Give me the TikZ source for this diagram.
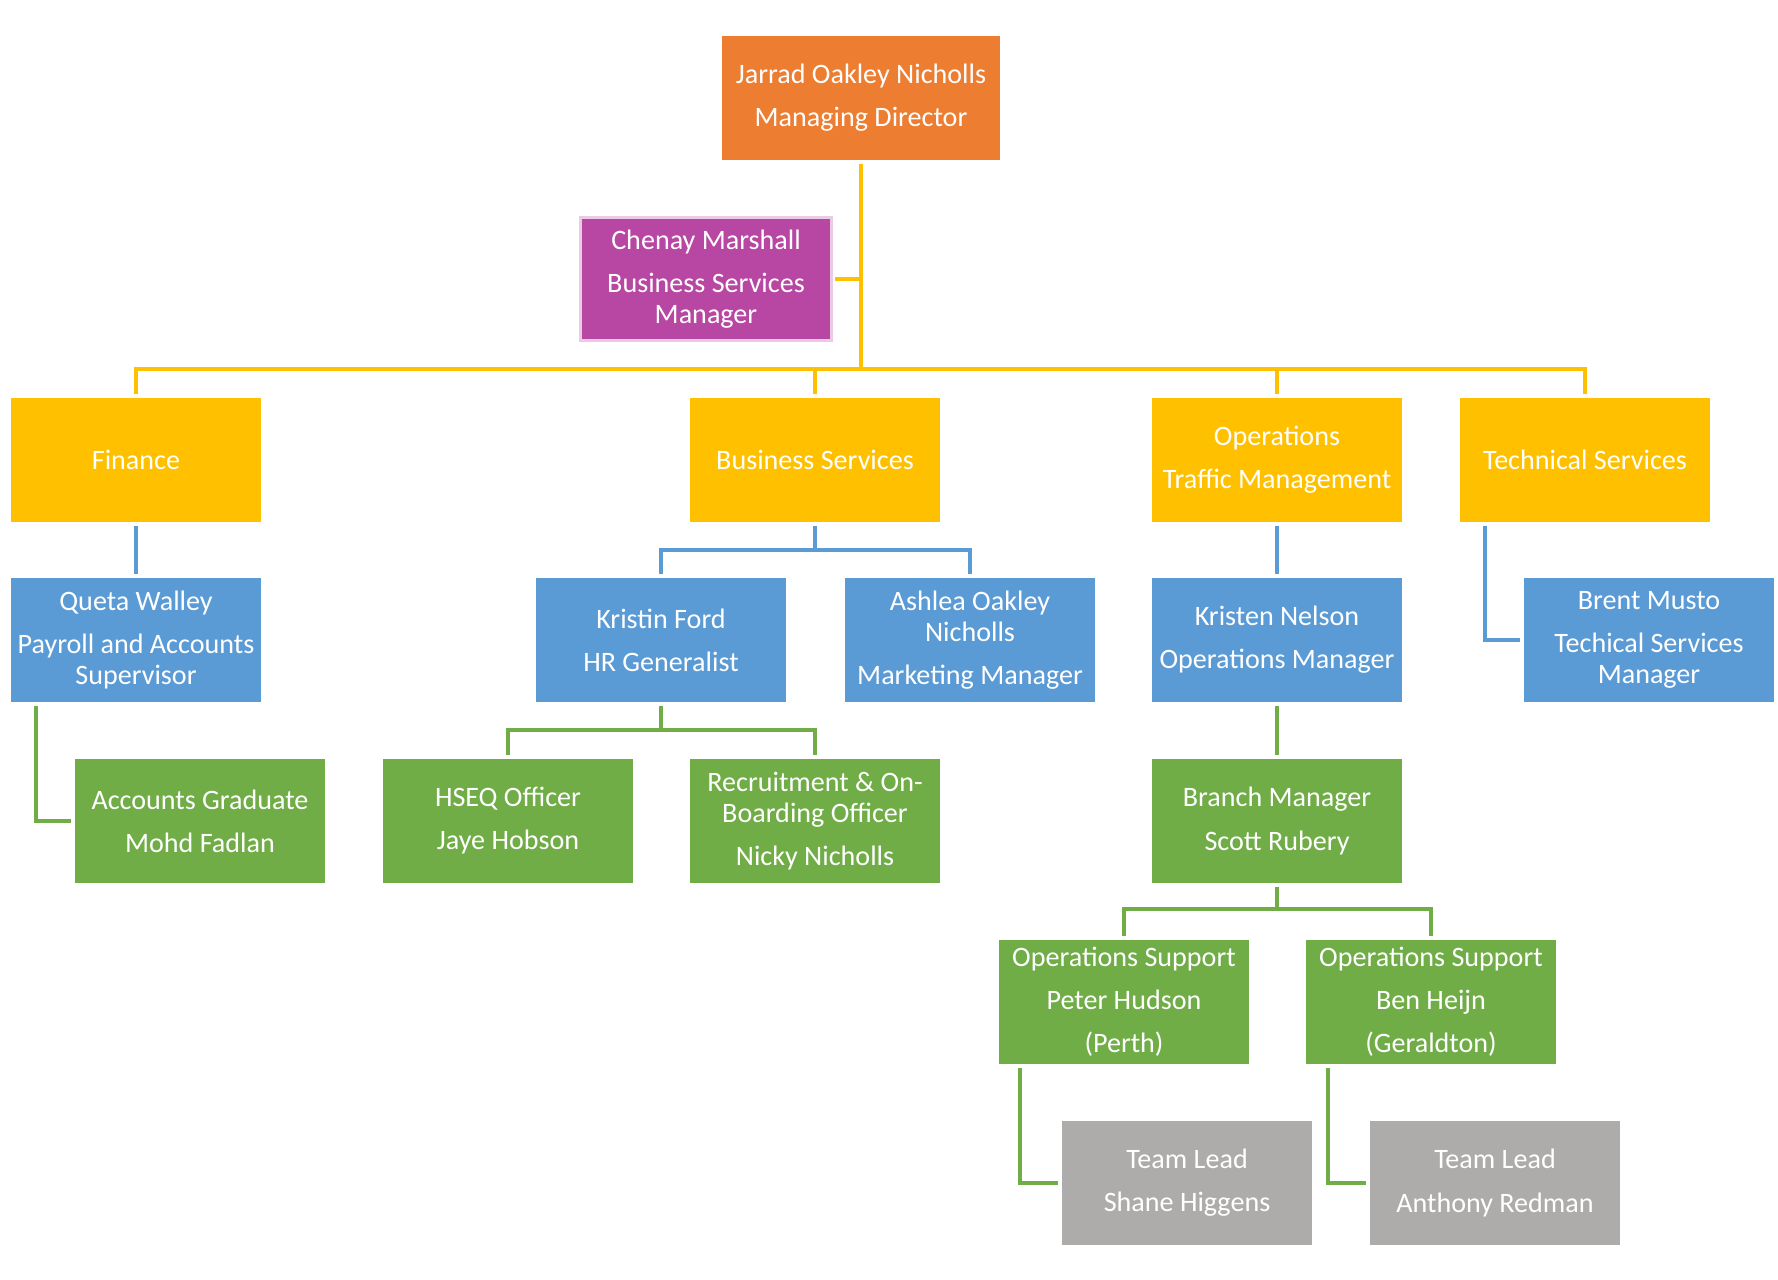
\documentclass[tikz,border=0pt]{standalone}
\usepackage{fontspec}
\setmainfont{Carlito}
\definecolor{mdorange}{HTML}{ED7D31}
\definecolor{bsmpurple}{HTML}{B847A3}
\definecolor{bsmedge}{HTML}{EBCBE4}
\definecolor{deptyellow}{HTML}{FFC000}
\definecolor{mgrblue}{HTML}{5B9BD5}
\definecolor{staffgreen}{HTML}{70AD47}
\definecolor{leadgray}{HTML}{AEABAB}
\begin{document}
\begin{tikzpicture}[
        x=0.02cm, y=-0.02cm,
        box/.style={rectangle, fill=mgrblue, text=white, align=center, minimum width=5.02cm, minimum height=2.48cm, inner sep=0pt, outer sep=0.08cm, font=\fontsize{16}{17.5}\selectfont},
        yline/.style={draw=deptyellow, line width=0.08cm},
        bline/.style={draw=mgrblue, line width=0.08cm},
        gline/.style={draw=staffgreen, line width=0.08cm}
    ]
        \useasboundingbox (0,0) rectangle (1778,1280);

        \node[box, fill=mdorange, minimum width=5.58cm, minimum height=2.5cm] (md) at (861,98) {Jarrad Oakley Nicholls\\[7pt]Managing Director};
        \node[box, fill=bsmpurple, draw=bsmedge, line width=0.06cm] (chenay) at (706,279) {Chenay Marshall\\[7pt]Business Services\\Manager};

        \node[box, fill=deptyellow] (finance) at (136,460) {Finance};
        \node[box, fill=deptyellow] (bizserv) at (815,460) {Business Services};
        \node[box, fill=deptyellow] (ops) at (1277,460) {Operations\\[7pt]Traffic Management};
        \node[box, fill=deptyellow] (tech) at (1585,460) {Technical Services};

        \node[box] (queta) at (136,640) {Queta Walley\\[7pt]Payroll and Accounts\\Supervisor};
        \node[box] (kristin) at (661,640) {Kristin Ford\\[7pt]HR Generalist};
        \node[box] (ashlea) at (970,640) {Ashlea Oakley\\Nicholls\\[7pt]Marketing Manager};
        \node[box] (knelson) at (1277,640) {Kristen Nelson\\[7pt]Operations Manager};
        \node[box] (brent) at (1649,640) {Brent Musto\\[7pt]Techical Services\\Manager};

        \node[box, fill=staffgreen] (accgrad) at (200,821) {Accounts Graduate\\[7pt]Mohd Fadlan};
        \node[box, fill=staffgreen] (hseq) at (508,821) {HSEQ Officer\\[7pt]Jaye Hobson};
        \node[box, fill=staffgreen] (recruit) at (815,821) {Recruitment \& On-\\Boarding Officer\\[7pt]Nicky Nicholls};
        \node[box, fill=staffgreen] (branch) at (1277,821) {Branch Manager\\[7pt]Scott Rubery};

        \node[box, fill=staffgreen] (peter) at (1124,1002) {Operations Support\\[7pt]Peter Hudson\\[7pt](Perth)};
        \node[box, fill=staffgreen] (ben) at (1431,1002) {Operations Support\\[7pt]Ben Heijn\\[7pt](Geraldton)};

        \node[box, fill=leadgray] (shane) at (1187,1183) {Team Lead\\[7pt]Shane Higgens};
        \node[box, fill=leadgray] (anthony) at (1495,1183) {Team Lead\\[7pt]Anthony Redman};

        % junctions
        \coordinate (bus) at (861,369);
        \coordinate (bsfork) at (815,550);
        \coordinate (hrfork) at (661,730);
        \coordinate (brfork) at (1277,909);

        % top level
        \draw[yline] (md.south) -- (bus);
        \draw[yline] (chenay.east) -- (chenay.east -| bus);
        \draw[yline] (finance.north) |- (bus) -| (tech.north);
        \draw[yline] (bizserv.north) -- (bizserv.north |- bus);
        \draw[yline] (ops.north) -- (ops.north |- bus);

        % managers
        \draw[bline] (finance) -- (queta);
        \draw[bline] (bizserv.south) -- (bsfork);
        \draw[bline] (kristin.north) |- (bsfork) -| (ashlea.north);
        \draw[bline] (ops) -- (knelson);
        \draw[bline] ([xshift=0.58cm]tech.south west) |- (brent.west);

        % staff
        \draw[gline] ([xshift=0.58cm]queta.south west) |- (accgrad.west);
        \draw[gline] (kristin.south) -- (hrfork);
        \draw[gline] (hseq.north) |- (hrfork) -| (recruit.north);
        \draw[gline] (knelson) -- (branch);
        \draw[gline] (branch.south) -- (brfork);
        \draw[gline] (peter.north) |- (brfork) -| (ben.north);
        \draw[gline] ([xshift=0.5cm]peter.south west) |- (shane.west);
        \draw[gline] ([xshift=0.52cm]ben.south west) |- (anthony.west);
    \end{tikzpicture}
\end{document}
